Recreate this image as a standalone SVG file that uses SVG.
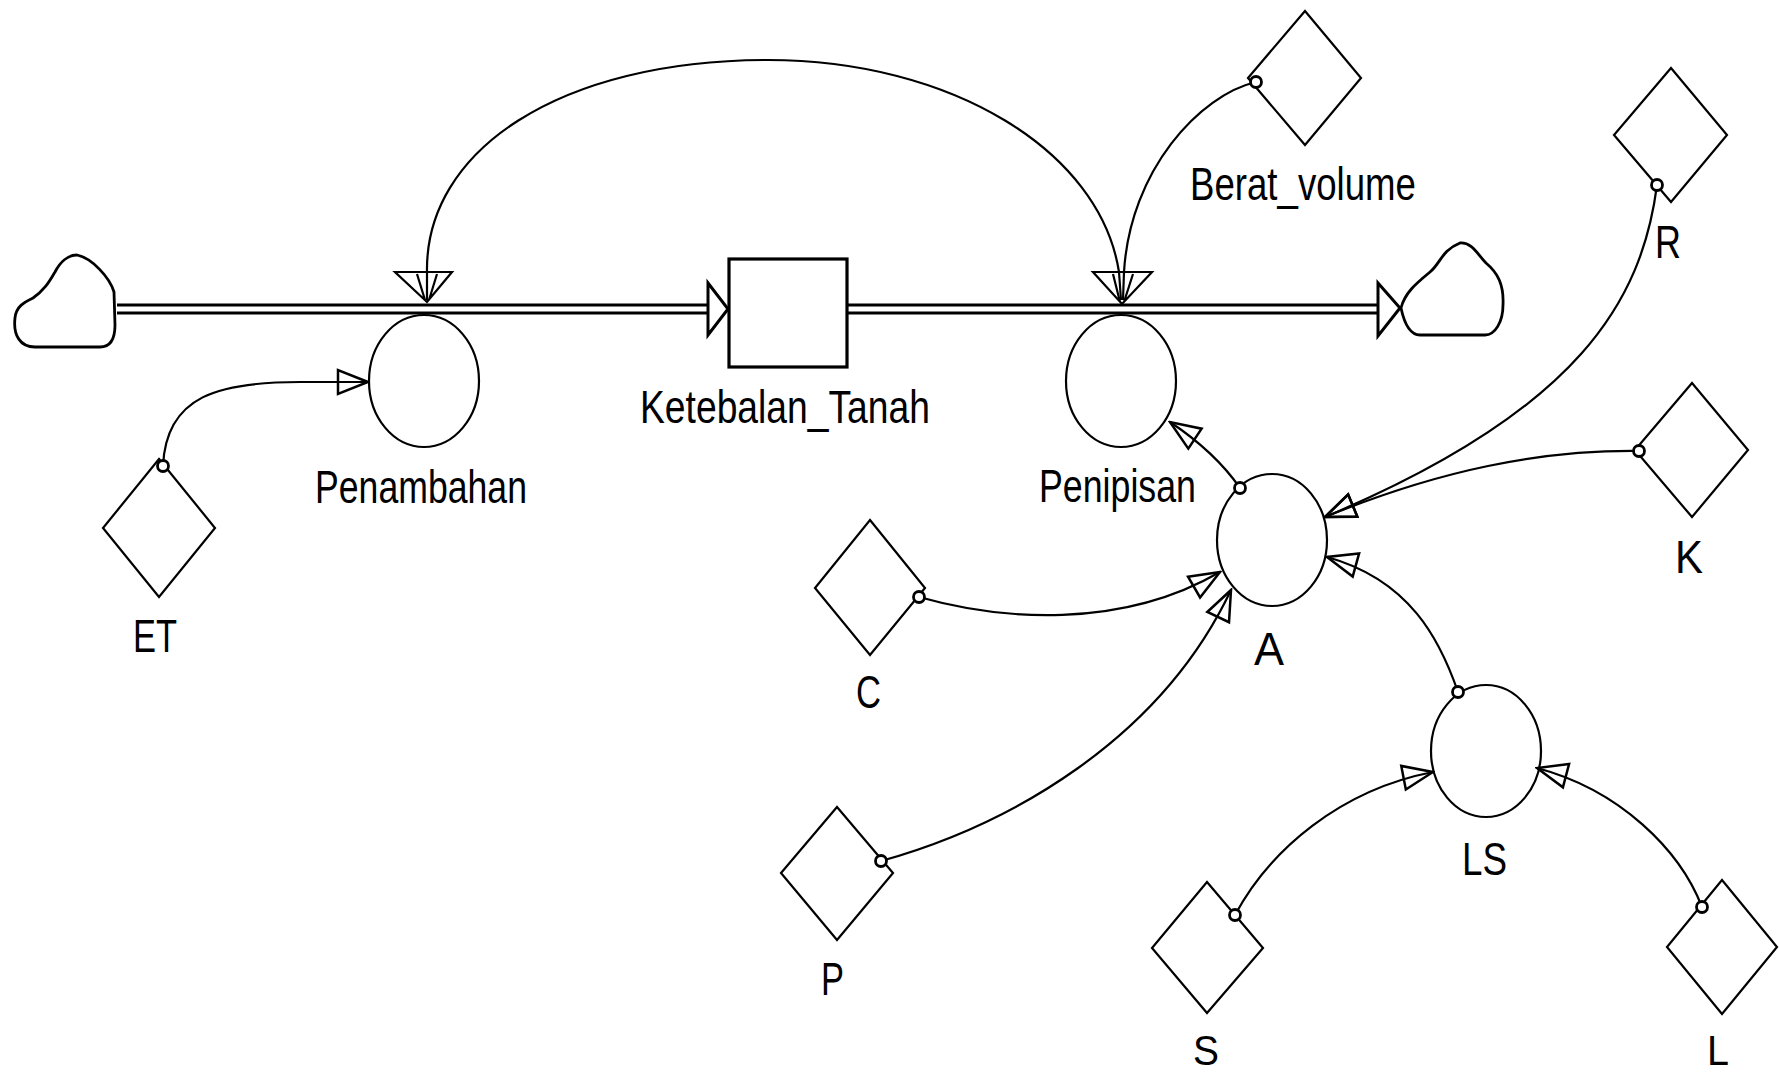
<svg xmlns="http://www.w3.org/2000/svg" width="1779" height="1075" viewBox="0 0 1779 1075">
<defs>
<style>
.ln{fill:none;stroke:#000;stroke-width:2.2}
.sh{fill:#fff;stroke:#000;stroke-width:2.2}
.stk{fill:#fff;stroke:#000;stroke-width:3.2}
.pipe{fill:none;stroke:#000;stroke-width:3}
.dot{fill:#fff;stroke:#000;stroke-width:2.8}
.cloud{fill:#fff;stroke:#000;stroke-width:2.8}
.lbl{font-family:"Liberation Sans",Arial,sans-serif;font-size:46px;fill:#000}
.lbs{font-family:"Liberation Sans",Arial,sans-serif;font-size:42px;fill:#000}
</style>
<marker id="ah" viewBox="-34 -16 36 32" refX="0" refY="0" markerWidth="36" markerHeight="32" markerUnits="userSpaceOnUse" orient="auto">
<path d="M0,0 L-30,-12 L-30,12 Z" fill="none" stroke="#000" stroke-width="2.5"/>
</marker>
</defs>
<rect x="0" y="0" width="1779" height="1075" fill="#fff"/>

<g id="connectors">
<g id="flow-in">
<line class="pipe" x1="117" y1="305" x2="708" y2="305"/>
<line class="pipe" x1="117" y1="313" x2="708" y2="313"/>
<path d="M708,283 L728,309 L708,335 Z" fill="#fff" stroke="#000" stroke-width="3"/>
</g>
<g id="flow-out">
<line class="pipe" x1="848" y1="305" x2="1378" y2="305"/>
<line class="pipe" x1="848" y1="313" x2="1378" y2="313"/>
<path d="M1378,283 L1400,308 L1378,336 Z" fill="#fff" stroke="#000" stroke-width="3"/>
</g>
<path class="ln" d="M427,300 L427,272 C425,150 560,60 768,60 C950,60 1100,150 1119,272 L1121,300"/>
<path class="ln" d="M1256,82 C1200,95 1130,170 1124,272 L1123,300"/>
<path class="ln" d="M163,466 C166,395 220,382 300,382 L368,382" marker-end="url(#ah)"/>
<path class="ln" d="M1657,185 C1642,300 1580,410 1325,517" marker-end="url(#ah)"/>
<path class="ln" d="M1639,451 C1540,450 1440,470 1325,517" marker-end="url(#ah)"/>
<path class="ln" d="M1240,488 Q1215,452 1170,422" marker-end="url(#ah)"/>
<path class="ln" d="M919,597 C1000,620 1120,630 1220,572" marker-end="url(#ah)"/>
<path class="ln" d="M881,861 C1010,825 1160,740 1231,590" marker-end="url(#ah)"/>
<path class="ln" d="M1235,915 C1270,850 1340,790 1433,772" marker-end="url(#ah)"/>
<path class="ln" d="M1702,907 C1680,850 1620,790 1537,768" marker-end="url(#ah)"/>
<path class="ln" d="M1458,692 C1440,640 1410,580 1327,557" marker-end="url(#ah)"/>
</g>

<g id="cloud-source">
<path class="cloud" d="M77,255 C92,258 110,278 114,292 L115,325 C115,340 110,347 100,347 L35,347 C20,347 13,335 15,318 C16,306 25,302 33,298 C45,290 50,280 55,272 C60,262 68,255 77,255 Z"/>
</g>
<g id="cloud-sink">
<path class="cloud" d="M1401,308 C1405,292 1418,282 1430,272 C1440,264 1442,250 1460,243 C1472,242 1478,255 1486,263 C1498,273 1504,285 1503,305 C1503,322 1495,335 1485,335 L1420,335 C1410,335 1404,322 1401,308 Z"/>
</g>

<g id="Ketebalan_Tanah">
<rect class="stk" x="729" y="259" width="118" height="108"/>
<text class="lbl" x="640" y="423" textLength="290" lengthAdjust="spacingAndGlyphs">Ketebalan_Tanah</text>
</g>

<g id="Penambahan">
<path class="ln" stroke-width="2.6" d="M395,272 L452,272 L427,302 Z M417,274 L425,300 M437,274 L429,300"/>
<ellipse class="ln" cx="424" cy="381" rx="55" ry="66"/>
<text class="lbl" x="315" y="503" textLength="212" lengthAdjust="spacingAndGlyphs">Penambahan</text>
</g>

<g id="Penipisan">
<path class="ln" stroke-width="2.6" d="M1093,272 L1152,272 L1122,304 Z M1113,274 L1120,302 M1133,274 L1124,302"/>
<ellipse class="ln" cx="1121" cy="381" rx="55" ry="66"/>
<text class="lbl" x="1039" y="502" textLength="157" lengthAdjust="spacingAndGlyphs">Penipisan</text>
</g>

<g id="ET">
<polygon class="sh" points="159,459 215,528 159,597 103,528"/>
<circle class="dot" cx="163" cy="466" r="5.5"/>
<text class="lbl" x="133" y="652" textLength="44" lengthAdjust="spacingAndGlyphs">ET</text>
</g>

<g id="Berat_volume">
<polygon class="sh" points="1305,11 1361,78 1305,145 1248,78"/>
<circle class="dot" cx="1256" cy="82" r="5.5"/>
<text class="lbl" x="1190" y="200" textLength="226" lengthAdjust="spacingAndGlyphs">Berat_volume</text>
</g>

<g id="R">
<polygon class="sh" points="1671,68 1727,135 1671,202 1614,135"/>
<circle class="dot" cx="1657" cy="185" r="5.5"/>
<text class="lbl" x="1655" y="258" textLength="26" lengthAdjust="spacingAndGlyphs">R</text>
</g>

<g id="K">
<polygon class="sh" points="1692,383 1748,450 1692,517 1635,450"/>
<circle class="dot" cx="1639" cy="451" r="5.5"/>
<text class="lbl" x="1675" y="573" textLength="28" lengthAdjust="spacingAndGlyphs">K</text>
</g>

<g id="A">
<ellipse class="ln" cx="1272" cy="540" rx="55" ry="66"/>
<circle class="dot" cx="1240" cy="488" r="5.5"/>
<text class="lbl" x="1254" y="665" textLength="30" lengthAdjust="spacingAndGlyphs">A</text>
</g>

<g id="C">
<polygon class="sh" points="870,520 925,588 870,655 815,588"/>
<circle class="dot" cx="919" cy="597" r="5.5"/>
<text class="lbl" x="856" y="708" textLength="25" lengthAdjust="spacingAndGlyphs">C</text>
</g>

<g id="P">
<polygon class="sh" points="837,807 893,873 837,940 781,873"/>
<circle class="dot" cx="881" cy="861" r="5.5"/>
<text class="lbl" x="821" y="995" textLength="23" lengthAdjust="spacingAndGlyphs">P</text>
</g>

<g id="LS">
<ellipse class="ln" cx="1486" cy="751" rx="55" ry="66"/>
<circle class="dot" cx="1458" cy="692" r="5.5"/>
<text class="lbl" x="1462" y="875" textLength="45" lengthAdjust="spacingAndGlyphs">LS</text>
</g>

<g id="S">
<polygon class="sh" points="1207,882 1263,948 1207,1013 1152,948"/>
<circle class="dot" cx="1235" cy="915" r="5.5"/>
<text class="lbs" x="1193" y="1065" textLength="26" lengthAdjust="spacingAndGlyphs">S</text>
</g>

<g id="L">
<polygon class="sh" points="1722,880 1777,947 1722,1014 1667,947"/>
<circle class="dot" cx="1702" cy="907" r="5.5"/>
<text class="lbs" x="1707" y="1065" textLength="22" lengthAdjust="spacingAndGlyphs">L</text>
</g>
</svg>
